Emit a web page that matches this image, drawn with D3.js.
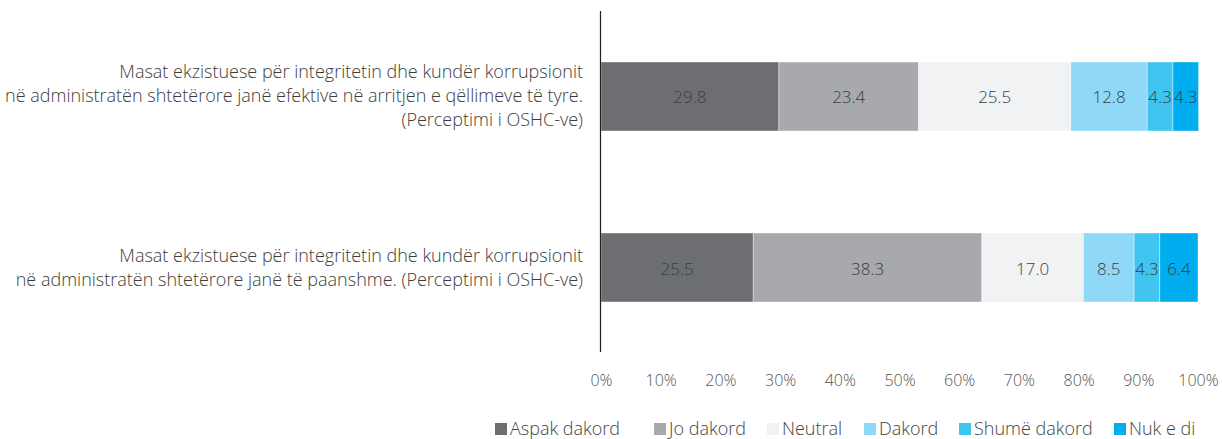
<!DOCTYPE html>
<meta charset="utf-8">
<style>
body { margin: 0; background: #fff; }
text { font-family: "Open Sans", "Noto Sans", sans-serif; font-weight: 300; fill: #3c3c3c; }
.cat { font-size: 18px; text-anchor: end; }
.val { font-size: 17px; text-anchor: middle; fill: #3a3d42; }
.tick text { font-size: 16px; fill: #555; }
.legend text { font-size: 18px; fill: #444; }
</style>
<svg width="1222" height="439"></svg>
<script src="https://d3js.org/d3.v7.min.js"></script>
<script>

var categories = [
  ["Masat ekzistuese për integritetin dhe kundër korrupsionit",
   "në administratën shtetërore janë efektive në arritjen e qëllimeve të tyre.",
   "(Perceptimi i OSHC-ve)"],
  ["Masat ekzistuese për integritetin dhe kundër korrupsionit",
   "në administratën shtetërore janë të paanshme. (Perceptimi i OSHC-ve)"]
];
var series = ["Aspak dakord", "Jo dakord", "Neutral", "Dakord", "Shumë dakord", "Nuk e di"];
var colors = ["#6d6e71", "#a7a9ac", "#f1f2f4", "#8fd8f7", "#3fc5f0", "#00adee"];
var values = [
  [29.8, 23.4, 25.5, 12.8, 4.3, 4.3],
  [25.5, 38.3, 17.0, 8.5, 4.3, 6.4]
];
var ticks = [0, 10, 20, 30, 40, 50, 60, 70, 80, 90, 100];

var svg = d3.select("svg");

var x = d3.scaleLinear().domain([0, 100]).range([601, 1198]);
var y = d3.scaleBand().domain([0, 1]).range([62, 302]).paddingInner(0.5965).paddingOuter(0);

// bars
var rows = svg.selectAll("g.row")
  .data(values)
  .enter().append("g")
    .attr("class", "row");

rows.each(function(vals, i) {
  var g = d3.select(this), acc = 0;
  var segs = vals.map(function(v, j) { var s = {v: v, j: j, x0: acc}; acc += v; return s; });
  g.selectAll("rect")
    .data(segs)
    .enter().append("rect")
      .attr("x", function(d) { return x(d.x0); })
      .attr("y", y(i))
      .attr("width", function(d) { return x(d.x0 + d.v) - x(d.x0); })
      .attr("height", y.bandwidth())
      .attr("fill", function(d) { return colors[d.j]; })
      .attr("stroke", "#fff")
      .attr("stroke-opacity", 0.5)
      .attr("stroke-width", 0.8);
  g.selectAll("text.val")
    .data(segs)
    .enter().append("text")
      .attr("class", "val")
      .attr("x", function(d) { return (x(d.x0) + x(d.x0 + d.v)) / 2; })
      .attr("y", y(i) + y.bandwidth() / 2 + 7)
      .text(function(d) { return d.v.toFixed(1); });
});

// category labels
categories.forEach(function(lines, i) {
  var cy = y(i) + y.bandwidth() / 2, lh = 24;
  var t = svg.append("text").attr("class", "cat");
  lines.forEach(function(line, k) {
    t.append("tspan")
      .attr("x", 583)
      .attr("y", cy + 6 + (k - (lines.length - 1) / 2) * lh)
      .text(line);
  });
});

// axis line
svg.append("line")
  .attr("x1", 600.5).attr("x2", 600.5)
  .attr("y1", 11).attr("y2", 352)
  .attr("stroke", "#231f20").attr("stroke-width", 1.2);

// x ticks
var xAxis = svg.append("g")
  .attr("transform", "translate(0,375)")
  .call(d3.axisBottom(x).tickValues(ticks).tickSize(0).tickPadding(0)
    .tickFormat(function(d) { return d + "%"; }));
xAxis.select(".domain").remove();

// legend
var legendX = [495, 654, 767, 864, 959, 1114];
var legend = svg.append("g").attr("class", "legend")
  .selectAll("g")
  .data(series)
  .enter().append("g")
    .attr("transform", function(d, i) { return "translate(" + legendX[i] + ",423)"; });
legend.append("rect")
  .attr("width", 12).attr("height", 12)
  .attr("fill", function(d, i) { return colors[i]; });
legend.append("text")
  .attr("x", 15).attr("y", 12)
  .text(function(d) { return d; });

</script>
